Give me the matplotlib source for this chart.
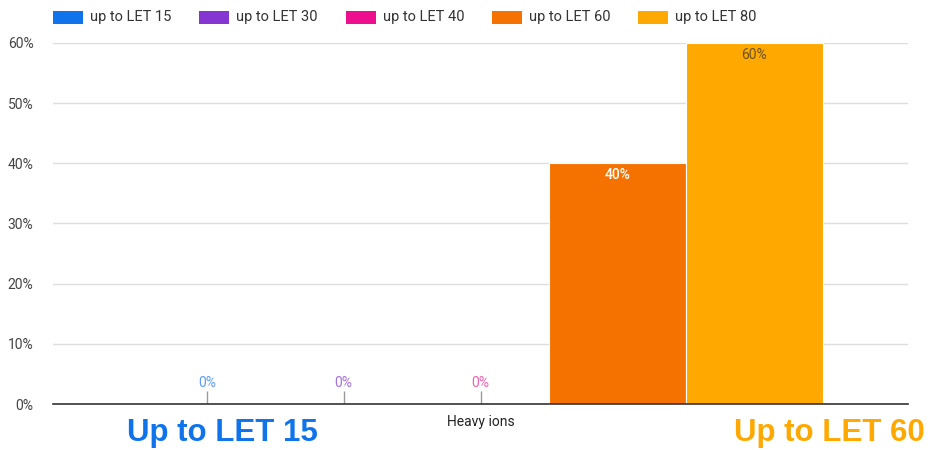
import matplotlib.pyplot as plt
from matplotlib.patches import Rectangle
import numpy as np

# data
category = "Heavy ions"
series = ["up to LET 15", "up to LET 30", "up to LET 40", "up to LET 60", "up to LET 80"]
values = [0.0, 0.0, 0.0, 0.40, 0.60]
colors = ["#0F74EC", "#8535D1", "#EE0F8F", "#F57100", "#FFA800"]
label_colors = ["#5E9EF2", "#A66FDD", "#F060B0", "#FFFFFF", "#6B5420"]
yticks = [0, 0.1, 0.2, 0.3, 0.4, 0.5, 0.6]

plt.rcParams['font.family'] = ['Roboto', 'DejaVu Sans']

W, H = 930, 450
fig = plt.figure(figsize=(W / 100, H / 100), dpi=100)
ax = fig.add_axes([53 / W, 1 - 404 / H, 855 / W, 361 / H])

n = len(series)
w = 1.0 / n
xs = (np.arange(n) - (n - 1) / 2) * w

for x, v, c, lc in zip(xs, values, colors, label_colors):
    if v > 0:
        ax.bar(x, v, width=w, color=c, edgecolor="white", linewidth=0.8, zorder=3)
        ax.text(x, v - 0.008, f"{v*100:.0f}%", ha="center", va="top", color=lc,
                fontsize=10, fontweight="medium" if lc == "#FFFFFF" else "normal", zorder=4)
    else:
        ax.vlines(x, 0, 0.022, color="#999999", linewidth=1, zorder=3)
        ax.text(x, 0.024, f"{v*100:.0f}%", ha="center", va="bottom",
                color=lc, fontsize=10, zorder=4)

ax.set_xlim(-0.625, 0.625)
ax.set_ylim(0, 0.6)
ax.set_yticks(yticks)
ax.set_yticklabels([f"{t*100:.0f}%" for t in yticks], color="#444444", fontsize=10)
ax.set_xticks([0])
ax.set_xticklabels([category], color="#222222", fontsize=10)
ax.tick_params(axis="y", length=0, pad=14)
ax.tick_params(axis="x", length=0, pad=8)
ax.grid(axis="y", color="#DDDDDD", linewidth=1, zorder=0)
for s in ["top", "right", "left"]:
    ax.spines[s].set_visible(False)
ax.spines["bottom"].set_color("#333333")
ax.spines["bottom"].set_linewidth(1.2)
ax.spines["bottom"].set_zorder(5)

# legend row across the top
for i, (s, c) in enumerate(zip(series, colors)):
    x0 = (53 + i * 146.3) / W
    fig.patches.append(Rectangle((x0, 1 - 24 / H), 30 / W, 13 / H, transform=fig.transFigure,
                                 facecolor=c, edgecolor="none"))
    fig.text(x0 + 37 / W, 1 - 17.5 / H, s, color="#333333", fontsize=10.5,
             ha="left", va="center")

fig.text(127 / W, 1 - 433 / H, "Up to LET 15", color=colors[0], fontsize=22.5,
         fontweight="bold", family="Liberation Sans", ha="left", va="center")
fig.text(925 / W, 1 - 433 / H, "Up to LET 60", color=colors[4], fontsize=22.5,
         fontweight="bold", family="Liberation Sans", ha="right", va="center")

fig.savefig("out.png", dpi=100)
